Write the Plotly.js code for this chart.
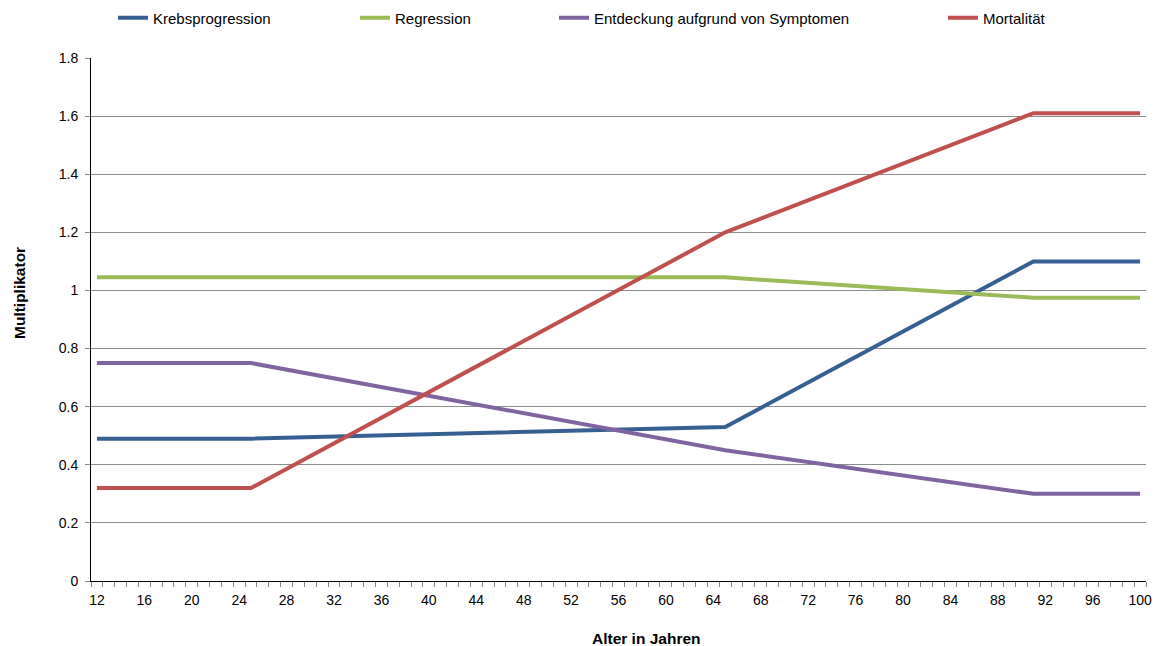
<!DOCTYPE html>
<html>
<head>
<meta charset="utf-8">
<script src="https://cdn.plot.ly/plotly-3.0.1.min.js"></script>
<style>html,body{margin:0;padding:0;background:#fff;}#chart{width:1158px;height:646px;}</style>
</head>
<body>
<div id="chart"></div>
<script>
// Ages at which the curves change slope (category axis 12..100)
const ages = [12, 25, 65, 91, 100];
const xTickLabels = [12,16,20,24,28,32,36,40,44,48,52,56,60,64,68,72,76,80,84,88,92,96,100];

const seriesNames = ["Krebsprogression", "Regression", "Entdeckung aufgrund von Symptomen", "Mortalität"];
const krebsprogression = [0.49, 0.49, 0.53, 1.10, 1.10];
const regression       = [1.045, 1.045, 1.045, 0.975, 0.975];
const entdeckung       = [0.75, 0.75, 0.45, 0.30, 0.30];
const mortalitaet      = [0.32, 0.32, 1.20, 1.61, 1.61];

const colors = ["#376092", "#9BBB59", "#8064A2", "#C0504D"];
const values = [krebsprogression, regression, entdeckung, mortalitaet];
const legendIds = ["legend", "legend2", "legend3", "legend4"];

const FONT = "Liberation Sans, Arial, sans-serif";

const traces = values.map((v, i) => ({
  type: "scatter",
  mode: "lines",
  x: ages,
  y: v,
  name: seriesNames[i],
  legend: legendIds[i],
  line: {color: colors[i], width: 4}
}));

// plot area: left 91px, right 1146px -> width 1055
const legendPx = [113, 355, 554, 943];
function legendCfg(px) {
  return {
    x: (px - 91) / 1055, xanchor: "left",
    y: 1.0765, yanchor: "middle",
    orientation: "h",
    bgcolor: "rgba(0,0,0,0)",
    font: {family: FONT, size: 15, color: "#000"}
  };
}

const layout = {
  width: 1158, height: 646,
  margin: {l: 91, r: 12, t: 58, b: 65, autoexpand: false},
  paper_bgcolor: "#fff", plot_bgcolor: "#fff",
  font: {family: FONT, size: 14, color: "#000"},
  showlegend: true,
  legend: legendCfg(legendPx[0]),
  legend2: legendCfg(legendPx[1]),
  legend3: legendCfg(legendPx[2]),
  legend4: legendCfg(legendPx[3]),
  xaxis: {
    range: [11.5, 100.5],
    tickmode: "array",
    tickvals: xTickLabels,
    ticktext: xTickLabels.map(String),
    ticks: "",
    ticklabelstandoff: 6,
    showgrid: false,
    zeroline: false,
    showline: true, linecolor: "#000", linewidth: 1,
    tickfont: {family: FONT, size: 14, color: "#000"},
    minor: {tick0: 11.5, dtick: 1, ticks: "outside", ticklen: 5, tickcolor: "#888", tickwidth: 1, showgrid: false}
  },
  yaxis: {
    range: [0, 1.8],
    dtick: 0.2,
    tick0: 0,
    ticks: "outside", ticklen: 5, tickcolor: "#888",
    ticklabelstandoff: 4,
    showgrid: true, gridcolor: "#8c8c8c", gridwidth: 1,
    zeroline: false,
    showline: true, linecolor: "#000", linewidth: 1,
    tickfont: {family: FONT, size: 14, color: "#000"}
  },
  annotations: [
    {text: "<b>Alter in Jahren</b>", xref: "paper", yref: "paper",
     x: (646 - 91) / 1055, y: (581 - 638) / 523, xanchor: "center", yanchor: "middle",
     showarrow: false, font: {family: FONT, size: 15.5, color: "#000"}},
    {text: "<b>Multiplikator</b>", xref: "paper", yref: "paper",
     x: (19 - 91) / 1055, y: (581 - 293) / 523, xanchor: "center", yanchor: "middle",
     textangle: -90, showarrow: false, font: {family: FONT, size: 15.5, color: "#000"}}
  ]
};

Plotly.newPlot("chart", traces, layout, {displayModeBar: false, staticPlot: true});
</script>
</body>
</html>
